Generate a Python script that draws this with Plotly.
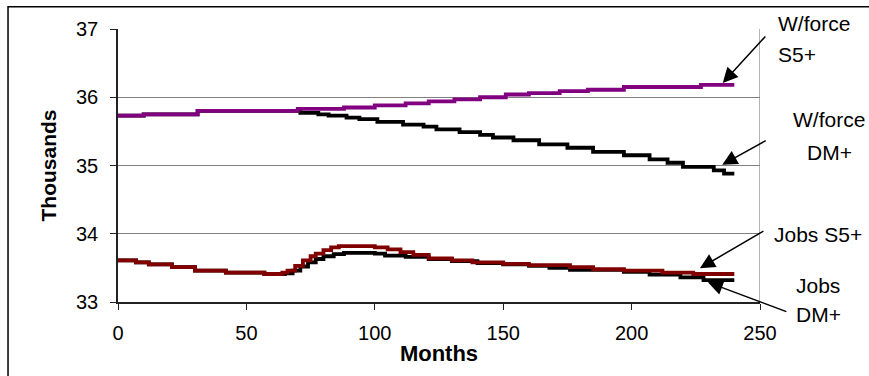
import plotly.graph_objects as go

# ---- data ----
wf_s5_months = [0, 10, 31, 70, 88, 100, 112, 121, 131, 141, 151, 160, 172, 183, 197, 227, 240]
wf_s5_vals = [35.73, 35.75, 35.80, 35.83, 35.85, 35.88, 35.91, 35.94, 35.97, 36.00, 36.04,
              36.06, 36.09, 36.11, 36.15, 36.18, 36.18]

wf_dm_months = [0, 10, 31, 71, 78, 82, 89, 94, 101, 111, 119, 124, 133, 141, 146, 154, 164,
                175, 185, 197, 207, 214, 220, 232, 236, 240]
wf_dm_vals = [35.73, 35.75, 35.80, 35.77, 35.75, 35.73, 35.70, 35.68, 35.64, 35.60, 35.57,
              35.53, 35.49, 35.45, 35.41, 35.37, 35.31, 35.26, 35.20, 35.15, 35.09, 35.04,
              34.98, 34.93, 34.88, 34.88]

jobs_s5_months = [0, 7, 12, 21, 30, 42, 57, 64, 66, 69, 72, 75, 77, 80, 83, 86, 95, 100, 105,
                  110, 115, 121, 130, 138, 150, 160, 176, 185, 197, 212, 224, 240]
jobs_s5_vals = [33.61, 33.58, 33.55, 33.51, 33.46, 33.43, 33.41, 33.43, 33.46, 33.53, 33.61,
                33.67, 33.71, 33.76, 33.80, 33.82, 33.82, 33.80, 33.77, 33.73, 33.69, 33.64,
                33.61, 33.58, 33.56, 33.54, 33.51, 33.48, 33.46, 33.43, 33.41, 33.41]

jobs_dm_months = [0, 7, 12, 21, 30, 42, 57, 65, 68, 71, 74, 77, 80, 84, 88, 100, 104, 112,
                  121, 130, 140, 150, 160, 168, 176, 197, 207, 219, 228, 240]
jobs_dm_vals = [33.61, 33.58, 33.55, 33.51, 33.46, 33.43, 33.41, 33.42, 33.46, 33.52, 33.58,
                33.63, 33.67, 33.70, 33.72, 33.71, 33.68, 33.66, 33.63, 33.60, 33.57, 33.55,
                33.53, 33.50, 33.47, 33.44, 33.40, 33.36, 33.32, 33.32]

x_ticks = [0, 50, 100, 150, 200, 250]
y_ticks = [33, 34, 35, 36, 37]

# arrow tips (data) for the four labels
arrow_tips = [(235.5, 36.21), (235.3, 35.01), (226.6, 33.495), (229.7, 33.29)]

FONT = "Liberation Sans, Arial, sans-serif"

fig = go.Figure()
fig.add_trace(go.Scatter(x=wf_dm_months, y=wf_dm_vals, mode="lines", line_shape="hv",
                         line=dict(color="#000000", width=3.8), name="W/force DM+"))
fig.add_trace(go.Scatter(x=wf_s5_months, y=wf_s5_vals, mode="lines", line_shape="hv",
                         line=dict(color="#800080", width=3.8), name="W/force S5+"))
fig.add_trace(go.Scatter(x=jobs_dm_months, y=jobs_dm_vals, mode="lines", line_shape="hv",
                         line=dict(color="#000000", width=3.8), name="Jobs DM+"))
fig.add_trace(go.Scatter(x=jobs_s5_months, y=jobs_s5_vals, mode="lines", line_shape="hv",
                         line=dict(color="#800000", width=3.8), name="Jobs S5+"))

# plot area right border
fig.add_shape(type="line", xref="x", yref="y", x0=250, x1=250, y0=33, y1=37,
              line=dict(color="#808080", width=1.2))
# chart area border (extends beyond the visible window on right/bottom)
fig.add_shape(type="rect", xref="paper", yref="paper", x0=-0.1713, x1=1.2,
              y0=-0.3, y1=1.0819, line=dict(color="#000000", width=1.5))

# arrows
tails = [(44, -48), (45, -25), (65, -38), (80, 30)]
for (tx, ty), (axp, ayp) in zip(arrow_tips, tails):
    fig.add_annotation(x=tx, y=ty, xref="x", yref="y", ax=axp, ay=ayp, text="",
                       showarrow=True, arrowhead=2, arrowsize=2.0, arrowwidth=1.5,
                       arrowcolor="#000000")

def px2paper(px, py):
    return (px - 118) / 642.0, (301.7 - py) / 272.4

labels = [("W/force", 776, 24), ("S5+", 776, 55), ("W/force", 791, 120), ("DM+", 805, 153),
          ("Jobs S5+", 772, 234), ("Jobs", 794, 285), ("DM+", 794, 314)]
for txt, lx, ly in labels:
    px_, py_ = px2paper(lx, ly)
    fig.add_annotation(x=px_, y=py_, xref="paper", yref="paper", text=txt, showarrow=False,
                       xanchor="left", yanchor="middle",
                       font=dict(family=FONT, size=21, color="#000000"))

fig.update_layout(
    width=869, height=376,
    margin=dict(l=118, r=109, t=29, b=74),
    paper_bgcolor="white", plot_bgcolor="white",
    showlegend=False,
    font=dict(family=FONT, color="#000000"),
)
fig.update_xaxes(range=[0, 250], tickvals=x_ticks, ticks="outside", ticklen=6,
                 tickcolor="#222", showline=True, linecolor="#222", linewidth=1.5,
                 showgrid=False, zeroline=False, tickfont=dict(size=20),
                 ticklabelstandoff=6,
                 title=dict(text="<b>Months</b>", font=dict(size=22), standoff=3))
fig.update_yaxes(range=[33, 37], tickvals=y_ticks, ticks="outside", ticklen=6,
                 tickcolor="#222", showline=True, linecolor="#222", linewidth=1.5,
                 showgrid=True, gridcolor="#808080", gridwidth=1.2, zeroline=False,
                 tickfont=dict(size=20), ticklabelstandoff=8,
                 title=dict(text="<b>Thousands</b>", font=dict(size=21), standoff=14))

fig.write_html("out.html")
